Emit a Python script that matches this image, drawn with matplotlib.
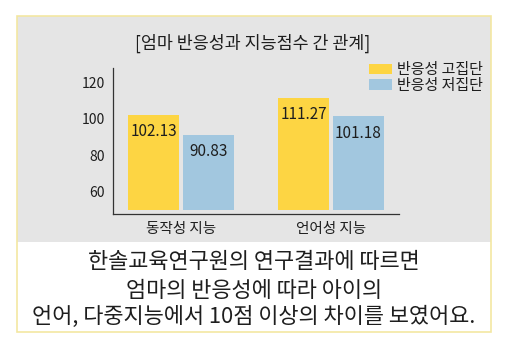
import numpy as np
import matplotlib
matplotlib.use("Agg")
import matplotlib.pyplot as plt
from matplotlib.patches import Rectangle

plt.rcParams['font.family'] = ['Noto Sans CJK KR', 'DejaVu Sans']

categories = ['동작성 지능', '언어성 지능']
high_group = [102.13, 111.27]
low_group = [90.83, 101.18]
series_names = ['반응성 고집단', '반응성 저집단']
yticks = [60, 80, 100, 120]
title = '[엄마 반응성과 지능점수 간 관계]'
caption = ['한솔교육연구원의 연구결과에 따르면',
           '엄마의 반응성에 따라 아이의',
           '언어, 다중지능에서 10점 이상의 차이를 보였어요.']

W, H = 510, 350
YELLOW = '#FDD543'
BLUE = '#A2C7DF'
GRAY = '#E5E5E5'
TEXT = '#1e1e1e'

fig = plt.figure(figsize=(W / 100, H / 100), dpi=100, facecolor='white')

def px(x, y):
    return x / W, 1 - y / H

# grey panel and thin yellow frame, kept behind the axes
x0, y0 = px(17, 242)
fig.patches.append(Rectangle((x0, y0), (491 - 17) / W, (242 - 16) / H,
                             transform=fig.transFigure, facecolor=GRAY,
                             edgecolor='none', zorder=-2))
x0, y0 = px(17, 332)
fig.patches.append(Rectangle((x0, y0), (491 - 17) / W, (332 - 16) / H,
                             transform=fig.transFigure, facecolor='none',
                             edgecolor='#F3E7A2', lw=1.2, zorder=-1))

fig.text(*px(253, 43), title, ha='center', va='center', fontsize=12.5, color=TEXT)

ax_l, ax_b = px(113, 214)
ax = fig.add_axes([ax_l, ax_b, (399 - 113) / W, (214 - 68) / H])
ax.set_facecolor('none')

x = np.arange(len(categories))
base = 50
w = 0.34
off = 0.183
b1 = ax.bar(x - off, np.array(high_group) - base, w, bottom=base, color=YELLOW,
            label=series_names[0])
b2 = ax.bar(x + off, np.array(low_group) - base, w, bottom=base, color=BLUE,
            label=series_names[1])

for bars, vals in ((b1, high_group), (b2, low_group)):
    for r, v in zip(bars, vals):
        ax.annotate(f'{v:.2f}', (r.get_x() + r.get_width() / 2, v),
                    xytext=(0, -12), textcoords='offset points',
                    ha='center', va='center', fontsize=11, color=TEXT)

ax.set_xlim(-0.453, 1.453)
ax.set_ylim(47.7, 127.7)
ax.set_yticks(yticks)
ax.set_xticks(x, categories)
ax.tick_params(axis='y', length=0, pad=6, labelsize=10, colors=TEXT)
ax.tick_params(axis='x', length=0, pad=6, labelsize=10.5, colors=TEXT)
for s in ('top', 'right'):
    ax.spines[s].set_visible(False)
for s in ('left', 'bottom'):
    ax.spines[s].set_color('#333333')
    ax.spines[s].set_linewidth(0.9)

fig.legend(loc='upper left', bbox_to_anchor=px(369, 63), frameon=False,
           fontsize=10.8, handlelength=1.55, handleheight=0.7,
           handletextpad=0.3, labelspacing=0.12, borderpad=0,
           borderaxespad=0, labelcolor=TEXT)

for yy, line in zip((262, 291, 317), caption):
    fig.text(*px(254, yy), line, ha='center', va='center', fontsize=15.8,
             color=TEXT)

fig.savefig('out.png', dpi=100)
